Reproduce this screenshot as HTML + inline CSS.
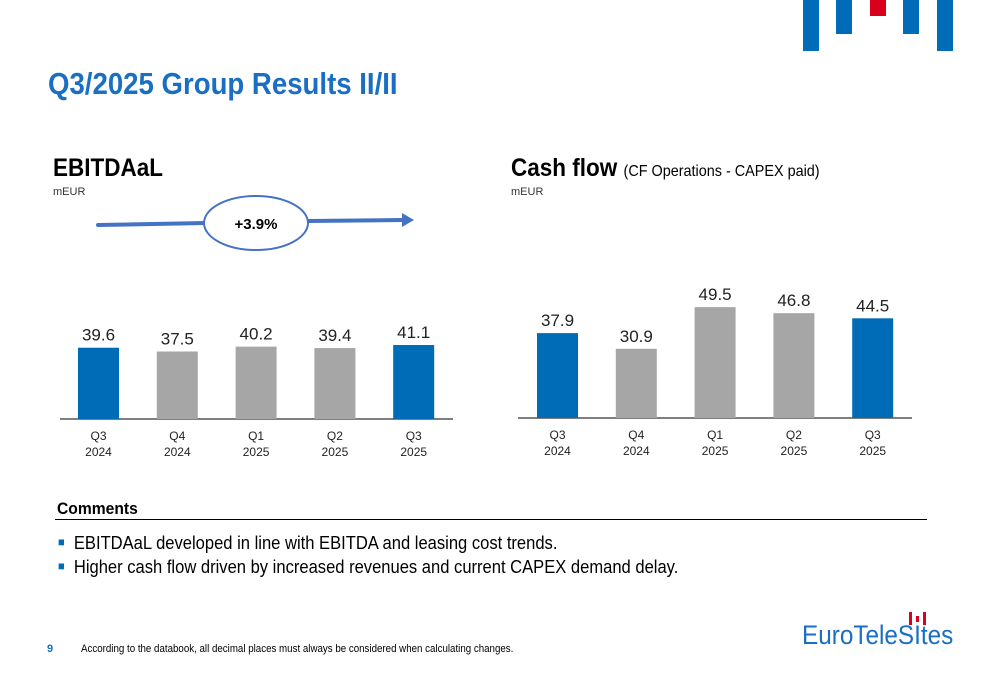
<!DOCTYPE html>
<html><head><meta charset="utf-8"><style>
body{margin:0;width:1000px;height:685px;background:#fff;font-family:"Liberation Sans",sans-serif;position:relative;overflow:hidden}
.a{position:absolute}
</style></head><body>
<div class="a" style="left:803px;top:0;width:16px;height:51px;background:#006bb6"></div>
<div class="a" style="left:836px;top:0;width:16px;height:34px;background:#006bb6"></div>
<div class="a" style="left:870px;top:0;width:16px;height:16px;background:#d9001b"></div>
<div class="a" style="left:903px;top:0;width:16px;height:34px;background:#006bb6"></div>
<div class="a" style="left:937px;top:0;width:16px;height:51px;background:#006bb6"></div>
<div class="a" style="left:48px;top:66px;font-size:31px;font-weight:bold;color:#1a6fc4;transform:scaleX(0.89);transform-origin:left">Q3/2025 Group Results II/II</div>

<div class="a" style="left:53px;top:154px;font-size:25px;font-weight:bold;transform:scaleX(0.9);transform-origin:left">EBITDAaL</div>
<div class="a" style="left:53px;top:186px;font-size:11px;color:#333">mEUR</div>
<div class="a" style="left:511px;top:154px;font-size:25px;transform:scaleX(0.9);transform-origin:left;white-space:nowrap"><b>Cash flow</b> <span style="font-size:16px">(CF Operations - CAPEX paid)</span></div>
<div class="a" style="left:511px;top:186px;font-size:11px;color:#333">mEUR</div>

<svg class="a" style="left:0;top:0" width="1000" height="685">
<g>
<line x1="98" y1="225" x2="206" y2="223" stroke="#4472c4" stroke-width="4" stroke-linecap="round"/>
<line x1="308" y1="221" x2="404" y2="220" stroke="#4472c4" stroke-width="4"/>
<polygon points="402,213 414,220 402,227" fill="#4472c4"/>
<ellipse cx="256" cy="223" rx="52" ry="27" fill="#fff" stroke="#4472c4" stroke-width="2"/>
<text x="256" y="229" text-anchor="middle" font-size="15" font-weight="bold">+3.9%</text>
</g>
<g id="c1"></g><g id="c2"></g>
</svg>

<div class="a" style="left:57px;top:499px;font-size:17px;font-weight:bold;transform:scaleX(0.92);transform-origin:left">Comments</div>
<div class="a" style="left:55px;top:519px;width:872px;height:1px;background:#000"></div>
<div class="a" style="left:58px;top:533px;font-size:18px;transform:scaleX(0.92);transform-origin:left;white-space:nowrap"><span style="color:#006bb6;font-size:12px;vertical-align:3px">■</span>&nbsp; EBITDAaL developed in line with EBITDA and leasing cost trends.</div>
<div class="a" style="left:58px;top:557px;font-size:18px;transform:scaleX(0.92);transform-origin:left;white-space:nowrap"><span style="color:#006bb6;font-size:12px;vertical-align:3px">■</span>&nbsp; Higher cash flow driven by increased revenues and current CAPEX demand delay.</div>
<div class="a" style="left:47px;top:643px;font-size:11px;font-weight:bold;color:#1a6fc4">9</div>
<div class="a" style="left:81px;top:643px;font-size:11px;transform:scaleX(0.885);transform-origin:left;white-space:nowrap">According to the databook, all decimal places must always be considered when calculating changes.</div>
<div class="a" style="left:802px;top:620px;font-size:27px;color:#1a6fc4;transform:scaleX(0.9);transform-origin:left;white-space:nowrap">EuroTeleSItes</div>
<div class="a" style="left:909px;top:612px;width:3px;height:13px;background:#d9001b"></div>
<div class="a" style="left:916px;top:616px;width:3px;height:6px;background:#d9001b"></div>
<div class="a" style="left:923px;top:612px;width:3px;height:13px;background:#d9001b"></div>

<script>
const categories=["Q3|2024","Q4|2024","Q1|2025","Q2|2025","Q3|2025"];
const ebitdaValues=[39.6,37.5,40.2,39.4,41.1];
const cashflowValues=[37.9,30.9,49.5,46.8,44.5];
const highlight=[true,false,false,false,true];
const NS="http://www.w3.org/2000/svg";
function mk(t,a,p){const e=document.createElementNS(NS,t);for(const k in a)e.setAttribute(k,a[k]);p.appendChild(e);return e;}
function draw(gid,vals,x0,axisL,axisR,base,scale){
 const g=document.getElementById(gid);
 const step=78.8,w=41;
 const ax=mk('line',{x1:axisL,y1:base,x2:axisR,y2:base,stroke:'#555','stroke-width':1.5},g);
 
 
 vals.forEach((v,i)=>{
  const x=x0+i*step,h=v*scale;
  const r=mk('rect',{x:x,y:base-h,width:w,height:h,fill:highlight[i]?'#006bb6':'#a6a6a6'},g);
  
  
  const t=mk('text',{x:x+w/2,y:base-h-7,'text-anchor':'middle','font-size':17,fill:'#222'},g);
  t.textContent=v.toFixed(1);
  
  
  const [q,y]=categories[i].split('|');
  const l=mk('text',{x:x+w/2,y:base+21,'text-anchor':'middle','font-size':12,fill:'#222'},g);
  
  
  mk('tspan',{x:x+w/2},l).textContent=q;
  mk('tspan',{x:x+w/2,dy:16},l).textContent=y;
 });
}
draw('c1',ebitdaValues,78,60,453,419,1.8);
draw('c2',cashflowValues,537,518,912,418,2.24);
</script>
</body></html>
